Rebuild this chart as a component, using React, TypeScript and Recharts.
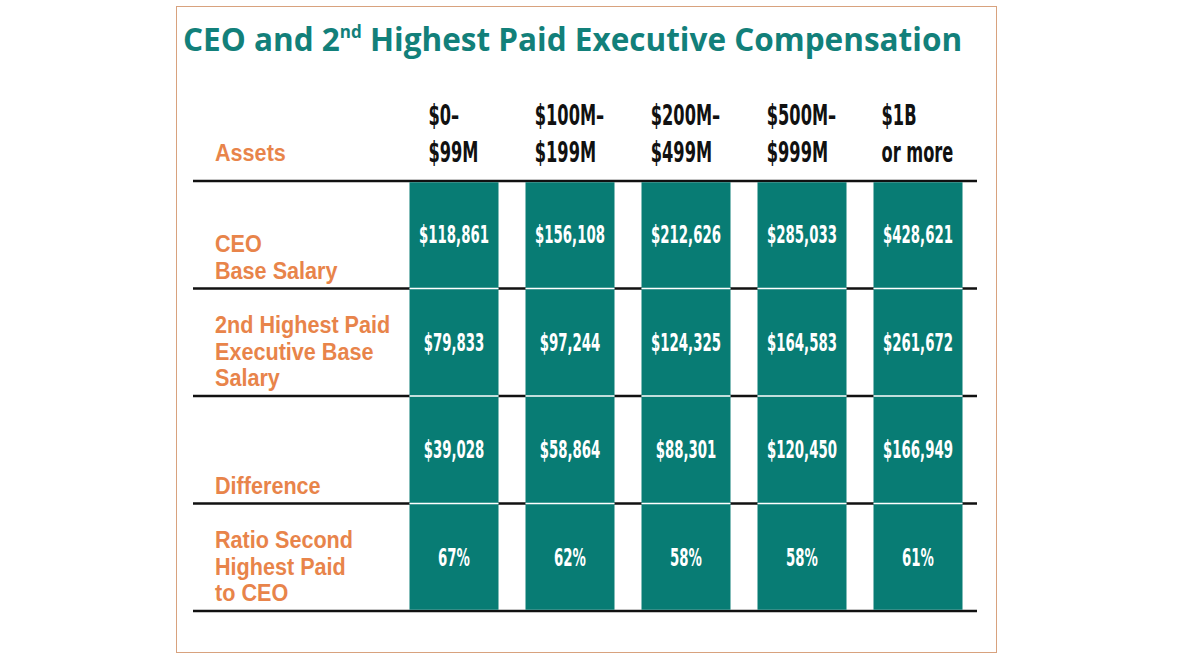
import { BarChart, Bar, XAxis, YAxis, CartesianGrid, LabelList } from 'recharts';

// header lines for the asset-size columns
const assetTop = ['$0–', '$100M–', '$200M–', '$500M–', '$1B'];
const assetBottom = ['$99M', '$199M', '$499M', '$999M', 'or more'];

const ceoSalary = [118861, 156108, 212626, 285033, 428621];
const secondSalary = [79833, 97244, 124325, 164583, 261672];
const difference = [39028, 58864, 88301, 120450, 166949];
const ratioPct = [67, 62, 58, 58, 61];

const rowLabels = [
    ['CEO', 'Base Salary'],
    ['2nd Highest Paid', 'Executive Base', 'Salary'],
    ['Difference'],
    ['Ratio Second', 'Highest Paid', 'to CEO'],
];
const rowTicks = [0, 1, 2, 3, 4];

const TEAL = '#087c74';
const TITLE_TEAL = '#12807a';
const ORANGE = '#e8844a';
const NARROW = '"DejaVu Sans Condensed", "Liberation Sans Narrow", sans-serif';
const SANS = '"Liberation Sans", Arial, sans-serif';

const usd = (n: number) => '$' + n.toLocaleString('en-US');

const rowKeys = ['ceo', 'second', 'diff', 'ratio'];
const textKeys = ['ceoText', 'secondText', 'diffText', 'ratioText'];

// one unit-high cell per table row, stacked in each column
const data = assetTop.map((top, i) => ({
    range: top + ' ' + assetBottom[i],
    ceo: 1,
    second: 1,
    diff: 1,
    ratio: 1,
    ceoText: usd(ceoSalary[i]),
    secondText: usd(secondSalary[i]),
    diffText: usd(difference[i]),
    ratioText: ratioPct[i] + '%',
}));

let ctx: CanvasRenderingContext2D | null = null;
const measure = (s: string, font: string) => {
    if (!ctx) ctx = document.createElement('canvas').getContext('2d');
    ctx!.font = font;
    return ctx!.measureText(s).width;
};

const CondText = ({ x, y, text, size, sx, fill, anchor, family, weight }: any) => (
    <text
        transform={`translate(${x},${y}) scale(${sx},1)`}
        x={0}
        y={0}
        textAnchor={anchor}
        fontFamily={family}
        fontWeight={weight || 'normal'}
        fontSize={size}
        fill={fill}
    >
        {text}
    </text>
);

// the source uses a very condensed face, so squeeze the glyphs to its widths
const HEAD_SIZE = 29;
const HEAD_WEIGHT = 'bold';
const VAL_SIZE = 24;
const VAL_WEIGHT = 'bold';
let headSx = 0;
let valSx = 0;
const headScale = () => headSx || (headSx = 50 / measure('$99M', `${HEAD_WEIGHT} ${HEAD_SIZE}px ${NARROW}`));
const valScale = () => valSx || (valSx = 70 / measure('$118,861', `${VAL_WEIGHT} ${VAL_SIZE}px ${NARROW}`));

const HeaderTick = (props: any) => {
    const { x, index } = props;
    const font = `${HEAD_WEIGHT} ${HEAD_SIZE}px ${NARROW}`;
    const sx = headScale();
    const w = Math.max(measure(assetTop[index], font), measure(assetBottom[index], font)) * sx;
    const left = x - w / 2;
    return (
        <g>
            <CondText x={left} y={125} text={assetTop[index]} size={HEAD_SIZE} sx={sx} fill="#111" anchor="start" family={NARROW} weight={HEAD_WEIGHT} />
            <CondText x={left} y={162} text={assetBottom[index]} size={HEAD_SIZE} sx={sx} fill="#111" anchor="start" family={NARROW} weight={HEAD_WEIGHT} />
        </g>
    );
};

const LABEL_X = 215;

const RowTick = (props: any) => {
    const { y, payload } = props;
    const v = payload.value;
    if (v >= rowLabels.length) return null;
    const lines = rowLabels[v];
    const lastBase = y + 97.5;
    return (
        <g>
            {v === 0 && (
                <CondText x={LABEL_X} y={y - 20} text="Assets" size={24} sx={0.9} fill={ORANGE} anchor="start" family={SANS} weight="bold" />
            )}
            {lines.map((t, i) => (
                <CondText
                    key={t}
                    x={LABEL_X}
                    y={lastBase - (lines.length - 1 - i) * 26.5}
                    text={t}
                    size={24}
                    sx={0.9}
                    fill={ORANGE}
                    anchor="start"
                    family={SANS}
                    weight="bold"
                />
            ))}
        </g>
    );
};

const makeCell = (row: number) => (p: any) => {
    let top = Math.min(p.y, p.y + p.height);
    let bottom = Math.max(p.y, p.y + p.height);
    const edgeTop = top;
    if (row === 0) top += 1.25;
    if (row === rowKeys.length - 1) bottom -= 1.25;
    return (
        <g>
            <rect x={p.x} y={top} width={p.width} height={bottom - top} fill={TEAL} />
            {row > 0 && (
                <line x1={p.x} x2={p.x + p.width} y1={edgeTop} y2={edgeTop} stroke="#fff" strokeWidth={1.5} />
            )}
        </g>
    );
};

const ValueLabel = (props: any) => {
    const { x, y, width, height, value } = props;
    return (
        <CondText
            x={x + width / 2}
            y={y + height / 2 + 8.5}
            text={value}
            size={VAL_SIZE}
            sx={valScale()}
            fill="#fff"
            anchor="middle"
            family={NARROW}
            weight={VAL_WEIGHT}
        />
    );
};

const App = () => {
    return (
        <div style={{ position: 'absolute', left: 0, top: 0, width: 1199, height: 658, background: '#fff' }}>
            <div
                style={{
                    position: 'absolute',
                    left: 176,
                    top: 6,
                    width: 821,
                    height: 647,
                    boxSizing: 'border-box',
                    border: '1px solid #d8a27e',
                }}
            />
            <div style={{ position: 'absolute', left: 0, top: 0 }}>
                <BarChart width={1199} height={658} data={data} margin={{ top: 81, right: 222, bottom: 47, left: 0 }}>
                    <CartesianGrid vertical={false} stroke="#111" strokeWidth={2.5} />
                    <XAxis
                        dataKey="range"
                        orientation="top"
                        height={100}
                        axisLine={false}
                        tickLine={false}
                        interval={0}
                        padding={{ left: 202.5, right: 1.5 }}
                        tick={<HeaderTick />}
                    />
                    <YAxis
                        type="number"
                        domain={[0, 4]}
                        ticks={rowTicks}
                        reversed
                        width={193}
                        axisLine={false}
                        tickLine={false}
                        interval={0}
                        tick={<RowTick />}
                    />
                    {rowKeys.map((k, r) => (
                        <Bar key={k} dataKey={k} stackId="cells" fill={TEAL} barSize={89} isAnimationActive={false} shape={makeCell(r)}>
                            <LabelList dataKey={textKeys[r]} content={<ValueLabel />} />
                        </Bar>
                    ))}
                </BarChart>
            </div>
            <svg width={1199} height={658} style={{ position: 'absolute', left: 0, top: 0, pointerEvents: 'none' }}>
                <text x={183} y={51} fontFamily='"Open Sans", sans-serif' fontWeight={700} fontSize={31.5} fill={TITLE_TEAL}>
                    CEO and 2
                    <tspan fontSize={17} dy={-13}>nd</tspan>
                    <tspan dy={13}> Highest Paid Executive Compensation</tspan>
                </text>
            </svg>
        </div>
    );
};

export default App;
